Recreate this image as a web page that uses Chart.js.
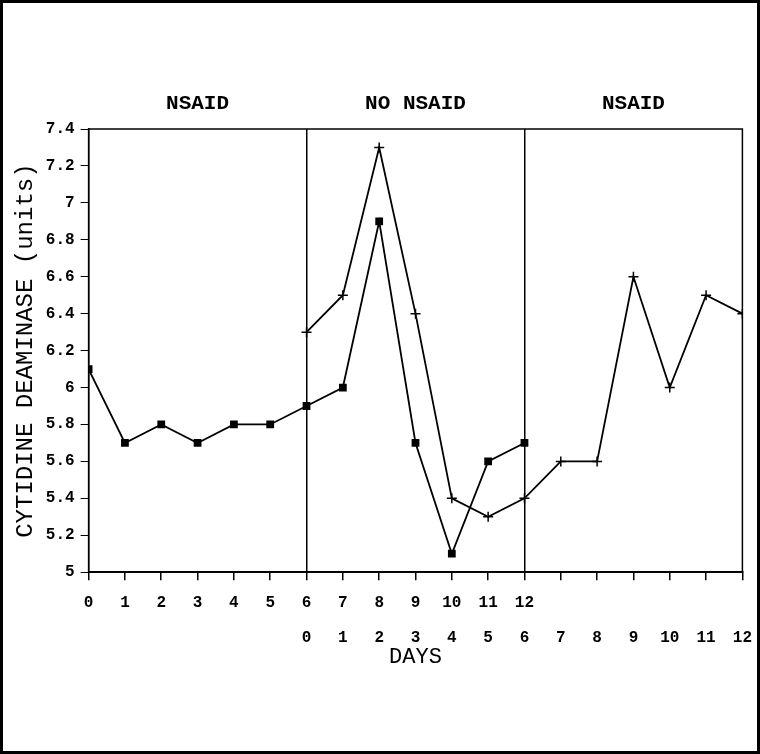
<!DOCTYPE html>
<html>
<head>
<meta charset="utf-8">
<script src="https://cdn.jsdelivr.net/npm/chart.js@4.4.1/dist/chart.umd.min.js"></script>
<style>
  html, body { margin: 0; padding: 0; background: #fff; }
  #wrap { position: relative; width: 754px; height: 748px; border: 3px solid #000; }
</style>
</head>
<body>
<div id="wrap"><canvas id="cd"></canvas></div>
<script>
// section headings across the top
const sections = ["NSAID", "NO NSAID", "NSAID"];
const sectionBounds = [0, 6, 12, 18];

// two rows of day labels under the x axis
const dayRowA = ["0","1","2","3","4","5","6","7","8","9","10","11","12","","","","","",""];
const dayRowB = ["","","","","","","0","1","2","3","4","5","6","7","8","9","10","11","12"];

// series (square markers start at position 0, plus markers at position 6)
const squareX = [0, 1, 2, 3, 4, 5, 6, 7, 8, 9, 10, 11, 12];
const squareY = [6.1, 5.7, 5.8, 5.7, 5.8, 5.8, 5.9, 6.0, 6.9, 5.7, 5.1, 5.6, 5.7];
const plusX = [6, 7, 8, 9, 10, 11, 12, 13, 14, 15, 16, 17, 18];
const plusY = [6.3, 6.5, 7.3, 6.4, 5.4, 5.3, 5.4, 5.6, 5.6, 6.6, 6.0, 6.5, 6.4];

const monoFont = "'Liberation Mono', 'DejaVu Sans Mono', monospace";

// frame around the plot + headings over each section
const framePlugin = {
    id: "frame",
    afterDraw(chart) {
        const ctx = chart.ctx;
        const a = chart.chartArea;
        const xs = chart.scales.x;
        ctx.save();
        ctx.strokeStyle = "#000";
        ctx.lineWidth = 1.5;
        ctx.strokeRect(a.left, a.top, a.right - a.left, a.bottom - a.top);
        ctx.fillStyle = "#000";
        ctx.font = "bold 21px " + monoFont;
        ctx.textAlign = "center";
        ctx.textBaseline = "middle";
        sections.forEach((s, i) => {
            const mid = (xs.getPixelForValue(sectionBounds[i]) + xs.getPixelForValue(sectionBounds[i + 1])) / 2;
            ctx.fillText(s, mid, a.top - 25);
        });
        ctx.restore();
    }
};

new Chart(document.getElementById("cd"), {
    type: "line",
    data: {
        datasets: [{
            data: squareX.map((x, i) => ({ x: x, y: squareY[i] })),
            borderColor: "#000",
            backgroundColor: "#000",
            borderWidth: 1.8,
            pointStyle: "rect",
            pointRadius: 5.5,
            pointBorderWidth: 0,
            tension: 0
        }, {
            data: plusX.map((x, i) => ({ x: x, y: plusY[i] })),
            borderColor: "#000",
            backgroundColor: "#000",
            borderWidth: 1.8,
            pointStyle: "cross",
            pointRadius: 5,
            pointBorderWidth: 1.5,
            tension: 0
        }]
    },
    options: {
        responsive: true,
        maintainAspectRatio: false,
        animation: false,
        layout: { padding: { top: 126, right: 0, bottom: 81, left: 4 } },
        plugins: {
            legend: { display: false },
            tooltip: { enabled: false }
        },
        scales: {
            x: {
                type: "linear",
                min: 0,
                max: 18,
                border: { display: true, color: "#000", width: 1.5 },
                grid: {
                    color: ctx => (ctx.tick && (ctx.tick.value === 6 || ctx.tick.value === 12)) ? "#000" : "rgba(0,0,0,0)",
                    lineWidth: 1.5,
                    tickColor: "#000",
                    tickLength: 8,
                    drawTicks: true
                },
                ticks: {
                    stepSize: 1,
                    autoSkip: false,
                    maxRotation: 0,
                    color: "#000",
                    padding: 5,
                    font: { family: monoFont, size: 16, weight: "bold", lineHeight: 2.2 },
                    callback: (v) => [dayRowA[v], dayRowB[v]]
                },
                title: {
                    display: true,
                    text: "DAYS",
                    color: "#000",
                    font: { family: monoFont, size: 22 },
                    padding: { top: -17, bottom: 0 }
                }
            },
            y: {
                min: 5,
                max: 7.4,
                border: { display: true, color: "#000", width: 1.5 },
                grid: {
                    color: "rgba(0,0,0,0)",
                    tickColor: "#000",
                    tickLength: 8
                },
                ticks: {
                    stepSize: 0.2,
                    color: "#000",
                    padding: 6,
                    font: { family: monoFont, size: 16, weight: "bold" },
                    callback: (v) => String(Math.round(v * 10) / 10)
                },
                title: {
                    display: true,
                    text: "CYTIDINE DEAMINASE (units)",
                    color: "#000",
                    font: { family: monoFont, size: 24 },
                    padding: { bottom: 0 }
                }
            }
        }
    },
    plugins: [framePlugin]
});
</script>
</body>
</html>
